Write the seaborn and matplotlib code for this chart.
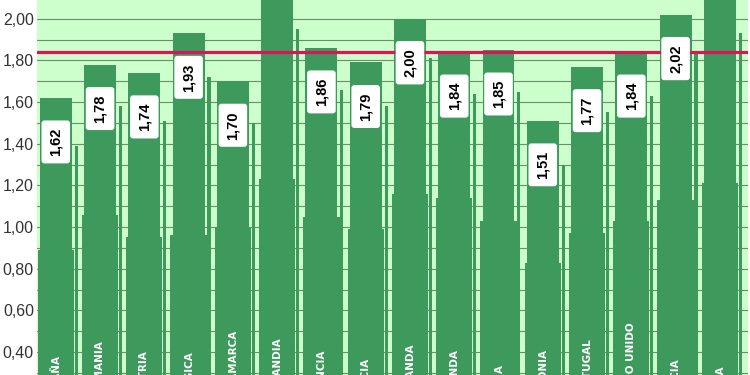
import matplotlib
matplotlib.use("Agg")
import matplotlib.pyplot as plt
import seaborn as sns
import pandas as pd
import numpy as np

# ================== data ==================
paises = ["ESPAÑA", "ALEMANIA", "AUSTRIA", "BÉLGICA", "DINAMARCA", "FINLANDIA",
          "FRANCIA", "GRECIA", "HOLANDA", "IRLANDA", "ITALIA", "POLONIA",
          "PORTUGAL", "REINO UNIDO", "SUECIA", "SUIZA"]
precios = [1.62, 1.78, 1.74, 1.93, 1.70, 2.13, 1.86, 1.79, 2.00, 1.84,
           1.85, 1.51, 1.77, 1.84, 2.02, 2.11]
# the "shadow" shapes beside / under each bar
cola = [1.39, 1.58, 1.51, 1.72, 1.50, 1.95, 1.66, 1.58, 1.81, 1.64,
        1.65, 1.30, 1.55, 1.63, 1.84, 1.93]
base = [0.89, 1.06, 0.95, 0.96, 1.00, 1.23, 1.05, 0.99, 1.16, 1.14,
        1.03, 0.83, 0.97, 1.03, 1.13, 1.21]
media = 1.84
ticks = [0.40, 0.60, 0.80, 1.00, 1.20, 1.40, 1.60, 1.80, 2.00]

df = pd.DataFrame({"pais": paises, "precio": precios})

verde = "#3d9a5c"
fondo = "#ccffcc"

sns.set_style("white")
plt.rcParams["font.family"] = ["Liberation Sans", "DejaVu Sans"]

fig = plt.figure(figsize=(7.5, 3.75), dpi=100)
ax = fig.add_axes([0.049, 0.0, 0.948, 1.0])
ax.set_facecolor(fondo)

pos = np.arange(len(paises))

# ================== bars ==================
ax.bar(pos, base, width=0.82, color=verde, linewidth=0, zorder=2)
ax.bar(pos + 0.46, cola, width=0.07, color=verde, linewidth=0, zorder=2)
sns.barplot(data=df, x="pais", y="precio", color=verde, saturation=1,
            width=0.72, linewidth=0, edgecolor="none", ax=ax, zorder=3)

# average line
ax.axhline(media, color="#d8145a", lw=2.3, zorder=5)

# value labels
for i, v in enumerate(precios):
    ax.annotate(f"{v:.2f}".replace(".", ","), (i, v), xytext=(0, -44),
                textcoords="offset pixels", rotation=90, ha="center", va="center",
                fontsize=10.5, fontweight="bold", color="black", zorder=6,
                bbox=dict(boxstyle="round,pad=0.5,rounding_size=0.2",
                          fc="white", ec="none"))

# country names (cut off at the bottom)
for i, p in enumerate(paises):
    ax.text(i, 0.165, p, rotation=90, ha="center", va="bottom", color="white",
            fontsize=7.5, fontweight="bold", family="DejaVu Sans",
            zorder=6, clip_on=False)

# ================== axes ==================
ax.set_xlim(-0.43, 15.63)
ax.set_ylim(0.29, 2.09)
ax.set_yticks(ticks)
ax.set_yticklabels([f"{t:.2f}".replace(".", ",") for t in ticks],
                   fontsize=11.5, color="#333333")
ax.set_yticks(np.arange(0.3, 2.1, 0.2), minor=True)
ax.tick_params(axis="y", which="both", length=0, pad=2)
ax.set_xticks([])
ax.set_xlabel("")
ax.set_ylabel("")
ax.grid(axis="y", which="both", color="#6a8f6a", lw=0.8, zorder=1)
ax.set_axisbelow(True)
for s in ax.spines.values():
    s.set_visible(False)

fig.savefig("out.png", dpi=100)
